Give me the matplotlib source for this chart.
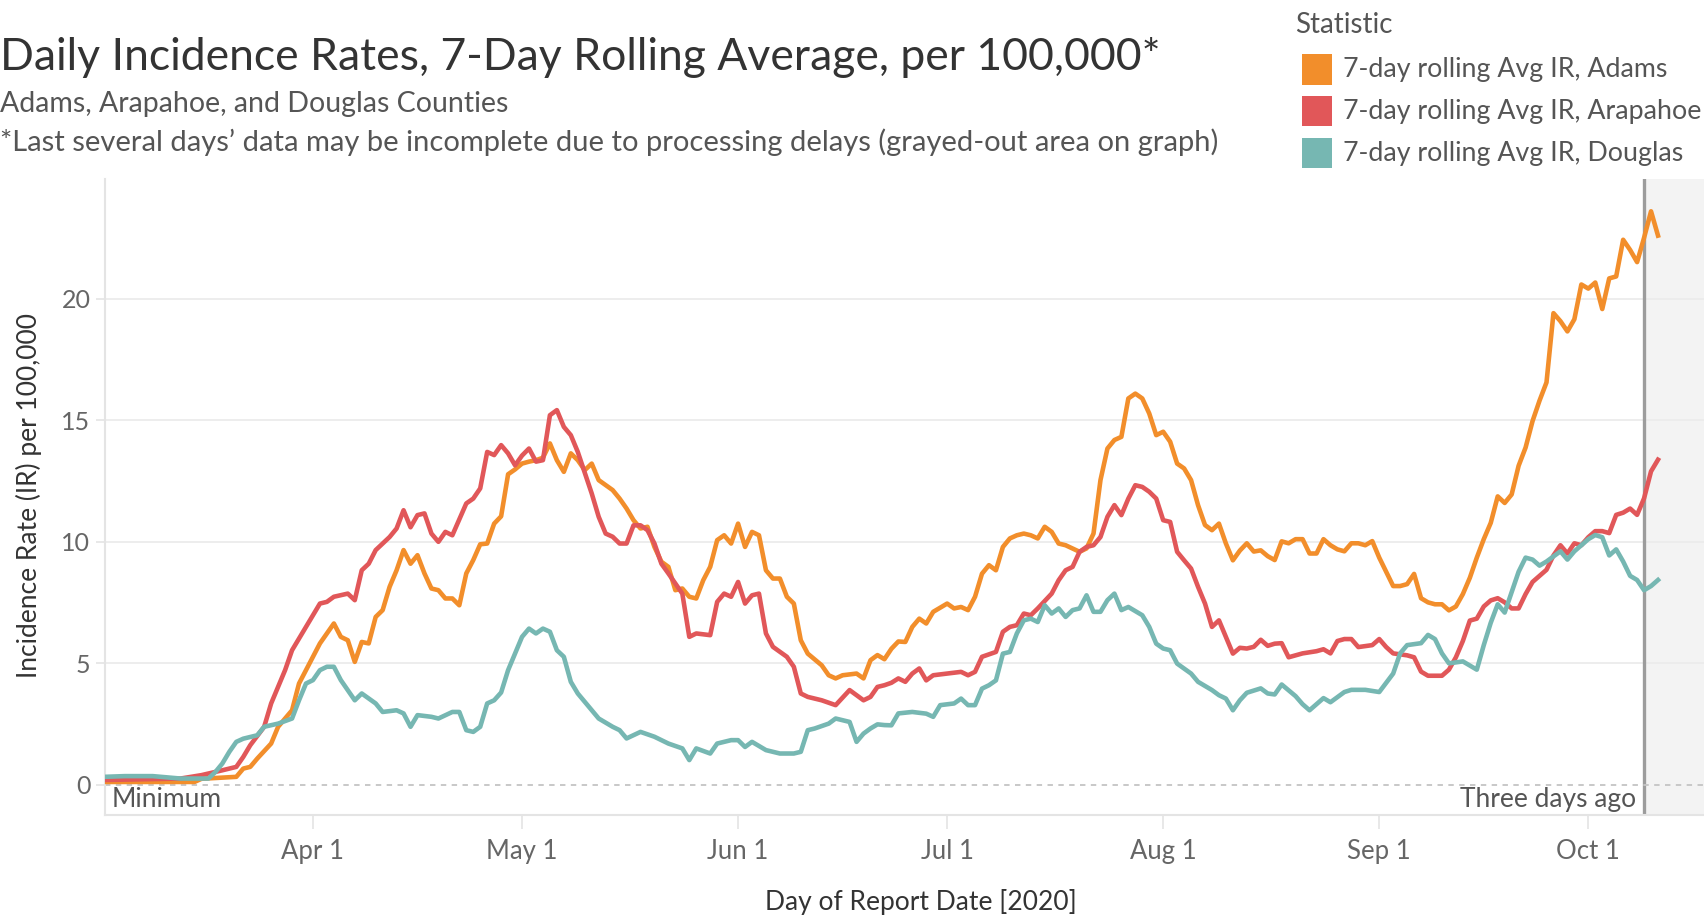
import matplotlib
matplotlib.use('Agg')
import matplotlib.pyplot as plt
import matplotlib.dates as mdates
from matplotlib.patches import Rectangle
import pandas as pd

# 7-day rolling average incidence rate per 100,000
adams_dates = ['03-02', '03-09', '03-15', '03-16', '03-21', '03-22', '03-23', '03-24', '03-26', '03-27',
               '03-29', '03-30', '04-01', '04-02', '04-03', '04-04', '04-05', '04-06', '04-07', '04-08',
               '04-09', '04-10', '04-11', '04-12', '04-13', '04-14', '04-15', '04-16', '04-17', '04-18',
               '04-19', '04-20', '04-21', '04-22', '04-23', '04-24', '04-25', '04-26', '04-27', '04-28',
               '04-29', '04-30', '05-01', '05-02', '05-03', '05-04', '05-05', '05-06', '05-07', '05-08',
               '05-09', '05-10', '05-11', '05-12', '05-14', '05-15', '05-16', '05-17', '05-18', '05-19',
               '05-20', '05-21', '05-22', '05-23', '05-24', '05-25', '05-26', '05-27', '05-28', '05-29',
               '05-30', '05-31', '06-01', '06-02', '06-03', '06-04', '06-05', '06-06', '06-07', '06-08',
               '06-09', '06-10', '06-11', '06-13', '06-14', '06-15', '06-16', '06-18', '06-19', '06-20',
               '06-21', '06-22', '06-23', '06-24', '06-25', '06-26', '06-27', '06-28', '06-29', '07-01',
               '07-02', '07-03', '07-04', '07-05', '07-06', '07-07', '07-08', '07-09', '07-10', '07-11',
               '07-12', '07-13', '07-14', '07-15', '07-16', '07-17', '07-18', '07-20', '07-21', '07-22',
               '07-23', '07-24', '07-25', '07-26', '07-27', '07-28', '07-29', '07-30', '07-31', '08-01',
               '08-02', '08-03', '08-04', '08-05', '08-06', '08-07', '08-08', '08-09', '08-10', '08-11',
               '08-12', '08-13', '08-14', '08-15', '08-16', '08-17', '08-18', '08-19', '08-20', '08-21',
               '08-22', '08-23', '08-24', '08-25', '08-26', '08-27', '08-28', '08-29', '08-30', '08-31',
               '09-01', '09-02', '09-03', '09-04', '09-05', '09-06', '09-07', '09-08', '09-09', '09-10',
               '09-11', '09-12', '09-13', '09-14', '09-15', '09-16', '09-17', '09-18', '09-19', '09-20',
               '09-21', '09-22', '09-23', '09-24', '09-25', '09-26', '09-27', '09-28', '09-29', '09-30',
               '10-01', '10-02', '10-03', '10-04', '10-05', '10-06', '10-07', '10-08', '10-09', '10-10',
               '10-11']
adams_ir = [0.12, 0.12, 0.12, 0.25, 0.33, 0.67, 0.74, 1.08, 1.70, 2.39,
            3.07, 4.17, 5.27, 5.82, 6.23, 6.64, 6.09, 5.95, 5.06, 5.88,
            5.82, 6.91, 7.19, 8.15, 8.83, 9.66, 9.10, 9.45, 8.70, 8.08,
            8.01, 7.67, 7.67, 7.39, 8.70, 9.25, 9.90, 9.93, 10.75, 11.05,
            12.78, 12.98, 13.22, 13.30, 13.36, 13.46, 14.05, 13.36, 12.88, 13.64,
            13.36, 12.95, 13.22, 12.54, 12.13, 11.78, 11.37, 10.89, 10.55, 10.62,
            9.79, 9.18, 8.97, 8.01, 8.08, 7.74, 7.67, 8.42, 8.97, 10.07,
            10.27, 9.93, 10.75, 9.79, 10.41, 10.27, 8.83, 8.49, 8.49, 7.74,
            7.46, 5.95, 5.40, 4.92, 4.51, 4.38, 4.51, 4.58, 4.38, 5.13,
            5.34, 5.17, 5.60, 5.90, 5.88, 6.50, 6.84, 6.64, 7.12, 7.46,
            7.26, 7.32, 7.19, 7.74, 8.69, 9.04, 8.83, 9.79, 10.14, 10.27,
            10.34, 10.27, 10.14, 10.62, 10.41, 9.93, 9.86, 9.59, 9.73, 10.34,
            12.54, 13.84, 14.19, 14.32, 15.90, 16.10, 15.90, 15.28, 14.39, 14.53,
            14.12, 13.22, 13.02, 12.54, 11.51, 10.69, 10.48, 10.75, 9.93, 9.24,
            9.64, 9.94, 9.60, 9.65, 9.41, 9.25, 10.02, 9.94, 10.11, 10.11,
            9.52, 9.52, 10.11, 9.86, 9.69, 9.61, 9.94, 9.94, 9.86, 10.03,
            9.35, 8.77, 8.18, 8.18, 8.26, 8.68, 7.68, 7.51, 7.43, 7.43,
            7.18, 7.34, 7.85, 8.52, 9.35, 10.11, 10.78, 11.87, 11.60, 11.95,
            13.13, 13.88, 14.97, 15.81, 16.56, 19.41, 19.08, 18.66, 19.16, 20.59,
            20.42, 20.67, 19.58, 20.84, 20.92, 22.43, 22.01, 21.51, 22.51, 23.60,
            22.60]

arapahoe_dates = ['03-02', '03-13', '03-16', '03-19', '03-21', '03-22', '03-23', '03-25', '03-26', '03-28',
                  '03-29', '03-31', '04-02', '04-03', '04-04', '04-06', '04-07', '04-08', '04-09', '04-10',
                  '04-12', '04-13', '04-14', '04-15', '04-16', '04-17', '04-18', '04-19', '04-20', '04-21',
                  '04-23', '04-24', '04-25', '04-26', '04-27', '04-28', '04-29', '04-30', '05-01', '05-02',
                  '05-03', '05-04', '05-05', '05-06', '05-07', '05-08', '05-09', '05-11', '05-12', '05-13',
                  '05-14', '05-15', '05-16', '05-17', '05-18', '05-19', '05-20', '05-21', '05-22', '05-24',
                  '05-25', '05-26', '05-28', '05-29', '05-30', '05-31', '06-01', '06-02', '06-03', '06-04',
                  '06-05', '06-06', '06-08', '06-09', '06-10', '06-11', '06-13', '06-15', '06-17', '06-19',
                  '06-20', '06-21', '06-22', '06-23', '06-24', '06-25', '06-26', '06-27', '06-28', '06-29',
                  '07-01', '07-03', '07-04', '07-05', '07-06', '07-08', '07-09', '07-10', '07-11', '07-12',
                  '07-13', '07-14', '07-16', '07-17', '07-18', '07-19', '07-20', '07-21', '07-22', '07-23',
                  '07-24', '07-25', '07-26', '07-27', '07-28', '07-29', '07-30', '07-31', '08-01', '08-02',
                  '08-03', '08-04', '08-05', '08-06', '08-07', '08-08', '08-09', '08-10', '08-11', '08-12',
                  '08-13', '08-14', '08-15', '08-16', '08-17', '08-18', '08-19', '08-21', '08-23', '08-24',
                  '08-25', '08-26', '08-27', '08-28', '08-29', '08-31', '09-01', '09-02', '09-03', '09-05',
                  '09-06', '09-07', '09-08', '09-10', '09-11', '09-12', '09-13', '09-14', '09-15', '09-16',
                  '09-17', '09-18', '09-19', '09-20', '09-21', '09-22', '09-23', '09-24', '09-25', '09-26',
                  '09-27', '09-28', '09-29', '09-30', '10-01', '10-02', '10-03', '10-04', '10-05', '10-06',
                  '10-07', '10-08', '10-09', '10-10', '10-11']
arapahoe_ir = [0.20, 0.26, 0.40, 0.60, 0.74, 1.15, 1.63, 2.39, 3.35, 4.72,
               5.54, 6.50, 7.46, 7.53, 7.74, 7.87, 7.60, 8.83, 9.10, 9.66,
               10.20, 10.55, 11.30, 10.60, 11.10, 11.17, 10.34, 10.00, 10.41, 10.27,
               11.58, 11.78, 12.20, 13.70, 13.57, 13.98, 13.64, 13.15, 13.55, 13.84,
               13.30, 13.36, 15.21, 15.42, 14.73, 14.39, 13.70, 11.99, 11.03, 10.34,
               10.21, 9.93, 9.93, 10.68, 10.68, 10.48, 9.93, 9.10, 8.70, 7.87,
               6.09, 6.23, 6.16, 7.53, 7.87, 7.74, 8.35, 7.46, 7.80, 7.87,
               6.23, 5.68, 5.27, 4.86, 3.76, 3.62, 3.48, 3.28, 3.90, 3.48,
               3.62, 4.03, 4.10, 4.20, 4.38, 4.24, 4.58, 4.79, 4.30, 4.51,
               4.58, 4.65, 4.51, 4.65, 5.27, 5.47, 6.30, 6.50, 6.57, 7.05,
               6.98, 7.26, 7.87, 8.42, 8.83, 8.97, 9.59, 9.79, 9.86, 10.20,
               11.03, 11.51, 11.10, 11.78, 12.33, 12.26, 12.06, 11.78, 10.89, 10.82,
               9.59, 9.24, 8.90, 8.15, 7.46, 6.50, 6.77, 6.09, 5.40, 5.64,
               5.61, 5.68, 5.97, 5.72, 5.81, 5.83, 5.25, 5.41, 5.50, 5.58,
               5.41, 5.92, 6.00, 6.00, 5.67, 5.75, 6.00, 5.67, 5.41, 5.33,
               5.25, 4.66, 4.49, 4.49, 4.74, 5.25, 5.92, 6.76, 6.84, 7.34,
               7.59, 7.68, 7.51, 7.26, 7.26, 7.85, 8.35, 8.60, 8.85, 9.44,
               9.86, 9.52, 9.94, 9.86, 10.19, 10.44, 10.44, 10.36, 11.11, 11.20,
               11.37, 11.11, 11.79, 12.90, 13.38]

douglas_dates = ['03-02', '03-05', '03-09', '03-13', '03-17', '03-18', '03-19', '03-20', '03-21', '03-22',
                 '03-24', '03-25', '03-27', '03-29', '03-30', '03-31', '04-01', '04-02', '04-03', '04-04',
                 '04-05', '04-07', '04-08', '04-10', '04-11', '04-13', '04-14', '04-15', '04-16', '04-18',
                 '04-19', '04-21', '04-22', '04-23', '04-24', '04-25', '04-26', '04-27', '04-28', '04-29',
                 '05-01', '05-02', '05-03', '05-04', '05-05', '05-06', '05-07', '05-08', '05-09', '05-11',
                 '05-12', '05-14', '05-15', '05-16', '05-18', '05-20', '05-22', '05-24', '05-25', '05-26',
                 '05-28', '05-29', '05-31', '06-01', '06-02', '06-03', '06-05', '06-07', '06-09', '06-10',
                 '06-11', '06-12', '06-14', '06-15', '06-17', '06-18', '06-19', '06-20', '06-21', '06-22',
                 '06-23', '06-24', '06-26', '06-28', '06-29', '06-30', '07-02', '07-03', '07-04', '07-05',
                 '07-06', '07-07', '07-08', '07-09', '07-10', '07-11', '07-12', '07-13', '07-14', '07-15',
                 '07-16', '07-17', '07-18', '07-19', '07-20', '07-21', '07-22', '07-23', '07-24', '07-25',
                 '07-26', '07-27', '07-29', '07-30', '07-31', '08-01', '08-02', '08-03', '08-05', '08-06',
                 '08-08', '08-09', '08-10', '08-11', '08-12', '08-13', '08-15', '08-16', '08-17', '08-18',
                 '08-20', '08-21', '08-22', '08-24', '08-25', '08-27', '08-28', '08-30', '09-01', '09-03',
                 '09-04', '09-05', '09-07', '09-08', '09-09', '09-10', '09-11', '09-13', '09-14', '09-15',
                 '09-16', '09-17', '09-18', '09-19', '09-20', '09-21', '09-22', '09-23', '09-24', '09-25',
                 '09-27', '09-28', '09-29', '10-01', '10-02', '10-03', '10-04', '10-05', '10-06', '10-07',
                 '10-08', '10-09', '10-10', '10-11']
douglas_ir = [0.33, 0.36, 0.36, 0.26, 0.26, 0.53, 0.88, 1.36, 1.77, 1.90,
              2.04, 2.39, 2.52, 2.73, 3.48, 4.17, 4.31, 4.72, 4.86, 4.86,
              4.31, 3.48, 3.76, 3.35, 3.00, 3.07, 2.94, 2.39, 2.87, 2.80,
              2.73, 3.00, 3.00, 2.25, 2.18, 2.39, 3.35, 3.48, 3.80, 4.72,
              6.09, 6.43, 6.23, 6.43, 6.30, 5.54, 5.27, 4.24, 3.76, 3.07,
              2.73, 2.39, 2.25, 1.91, 2.18, 1.98, 1.70, 1.50, 1.02, 1.50,
              1.29, 1.70, 1.84, 1.84, 1.56, 1.77, 1.43, 1.29, 1.29, 1.36,
              2.25, 2.32, 2.52, 2.73, 2.59, 1.77, 2.11, 2.32, 2.49, 2.46,
              2.45, 2.94, 3.00, 2.93, 2.80, 3.28, 3.35, 3.55, 3.28, 3.28,
              3.96, 4.10, 4.30, 5.40, 5.47, 6.23, 6.77, 6.84, 6.70, 7.39,
              7.05, 7.26, 6.91, 7.19, 7.26, 7.80, 7.12, 7.12, 7.60, 7.87,
              7.19, 7.32, 6.98, 6.50, 5.81, 5.61, 5.54, 4.99, 4.58, 4.24,
              3.90, 3.69, 3.55, 3.07, 3.48, 3.79, 3.97, 3.76, 3.72, 4.13,
              3.65, 3.32, 3.07, 3.57, 3.40, 3.82, 3.91, 3.91, 3.82, 4.58,
              5.41, 5.75, 5.83, 6.17, 6.00, 5.41, 5.00, 5.08, 4.91, 4.74,
              5.75, 6.67, 7.43, 7.09, 7.93, 8.77, 9.35, 9.27, 9.02, 9.19,
              9.61, 9.27, 9.61, 10.11, 10.28, 10.19, 9.44, 9.69, 9.19, 8.60,
              8.43, 8.01, 8.18, 8.43]

series_names = ['7-day rolling Avg IR, Adams', '7-day rolling Avg IR, Arapahoe', '7-day rolling Avg IR, Douglas']
series_colors = ['#F28E2B', '#E15759', '#76B7B2']
y_ticks = [0, 5, 10, 15, 20]
three_days_ago = pd.Timestamp('2020-10-09')


def to_dates(days):
    return pd.to_datetime(['2020-' + d for d in days])


plt.rcParams['font.family'] = ['Lato', 'DejaVu Sans']

W, H = 1704, 917
fig = plt.figure(figsize=(W / 100, H / 100), dpi=100)
ax = fig.add_axes([105 / W, 102 / H, 1599 / W, 636 / H])

apr1 = pd.Timestamp('2020-04-01')
x0 = apr1 - pd.Timedelta(days=29.84)
x1 = apr1 + pd.Timedelta(days=199.6)

ax.axvspan(three_days_ago, x1, color='#f3f3f3', zorder=0, lw=0)
ax.axvline(three_days_ago, color='#9c9c9c', lw=2.4, zorder=1)
ax.axhline(0, color='#c4c4c4', lw=1.3, ls=(0, (3, 3)), zorder=1)

series = [(adams_dates, adams_ir), (arapahoe_dates, arapahoe_ir), (douglas_dates, douglas_ir)]
for (d, v), name, c in zip(series, series_names, series_colors):
    ax.plot(to_dates(d), v, color=c, lw=3.3, solid_joinstyle='round', label=name, zorder=3)

ax.set_xlim(x0, x1)
ax.set_ylim(-1.24, 24.93)
ax.set_yticks(y_ticks)
ax.yaxis.grid(True, color='#ececec', lw=1.3)
ax.get_ygridlines()[0].set_visible(False)
ax.set_axisbelow(True)

ax.xaxis.set_major_locator(mdates.MonthLocator(bymonth=range(4, 11)))
ax.xaxis.set_major_formatter(mdates.DateFormatter('%b 1'))

for s in ['top', 'right']:
    ax.spines[s].set_visible(False)
for s in ['left', 'bottom']:
    ax.spines[s].set_color('#e4e4e4')
    ax.spines[s].set_linewidth(1.5)

ax.tick_params(axis='y', length=6.5, width=1.2, color='#e4e4e4', labelcolor='#666666', labelsize=18, pad=4)
ax.tick_params(axis='x', length=10, width=1.2, color='#e4e4e4', labelcolor='#666666', labelsize=18.5, pad=7)

ax.text(0.0044, 0.0236, 'Minimum', transform=ax.transAxes, ha='left', va='center', fontsize=19, color='#555555')
ax.annotate('Three days ago', xy=(three_days_ago, 0.0236), xycoords=('data', 'axes fraction'),
            xytext=(-6, 0), textcoords='offset points', ha='right', va='center', fontsize=19, color='#555555')

fig.text(29 / W, 1 - 495 / H, 'Incidence Rate (IR) per 100,000', rotation=90, ha='center', va='center',
         fontsize=19, color='#333333')
fig.text(921 / W, 1 - 902 / H, 'Day of Report Date [2020]', ha='center', va='center', fontsize=19, color='#333333')

fig.text(0.0, 1 - 58 / H, 'Daily Incidence Rates, 7-Day Rolling Average, per 100,000*', ha='left', va='center',
         fontsize=32, color='#333333')
fig.text(0.0, 1 - 104 / H, 'Adams, Arapahoe, and Douglas Counties', ha='left', va='center', fontsize=20.5,
         color='#555555')
fig.text(0.0, 1 - 142 / H,
         '*Last several days\u2019 data may be incomplete due to processing delays (grayed-out area on graph)',
         ha='left', va='center', fontsize=21, color='#555555')

# legend
fig.text(1295 / W, 1 - 25 / H, 'Statistic', ha='left', va='center', fontsize=20, color='#555555')
for i, (name, c) in enumerate(zip(series_names, series_colors)):
    yc = 69.5 + 41.8 * i
    fig.add_artist(Rectangle((1302 / W, 1 - (yc + 15) / H), 30 / W, 30 / H, transform=fig.transFigure,
                             facecolor=c, edgecolor='none'))
    fig.text(1343 / W, 1 - yc / H, name, ha='left', va='center', fontsize=19.3, color='#555555')

fig.savefig('out.png', dpi=100)
